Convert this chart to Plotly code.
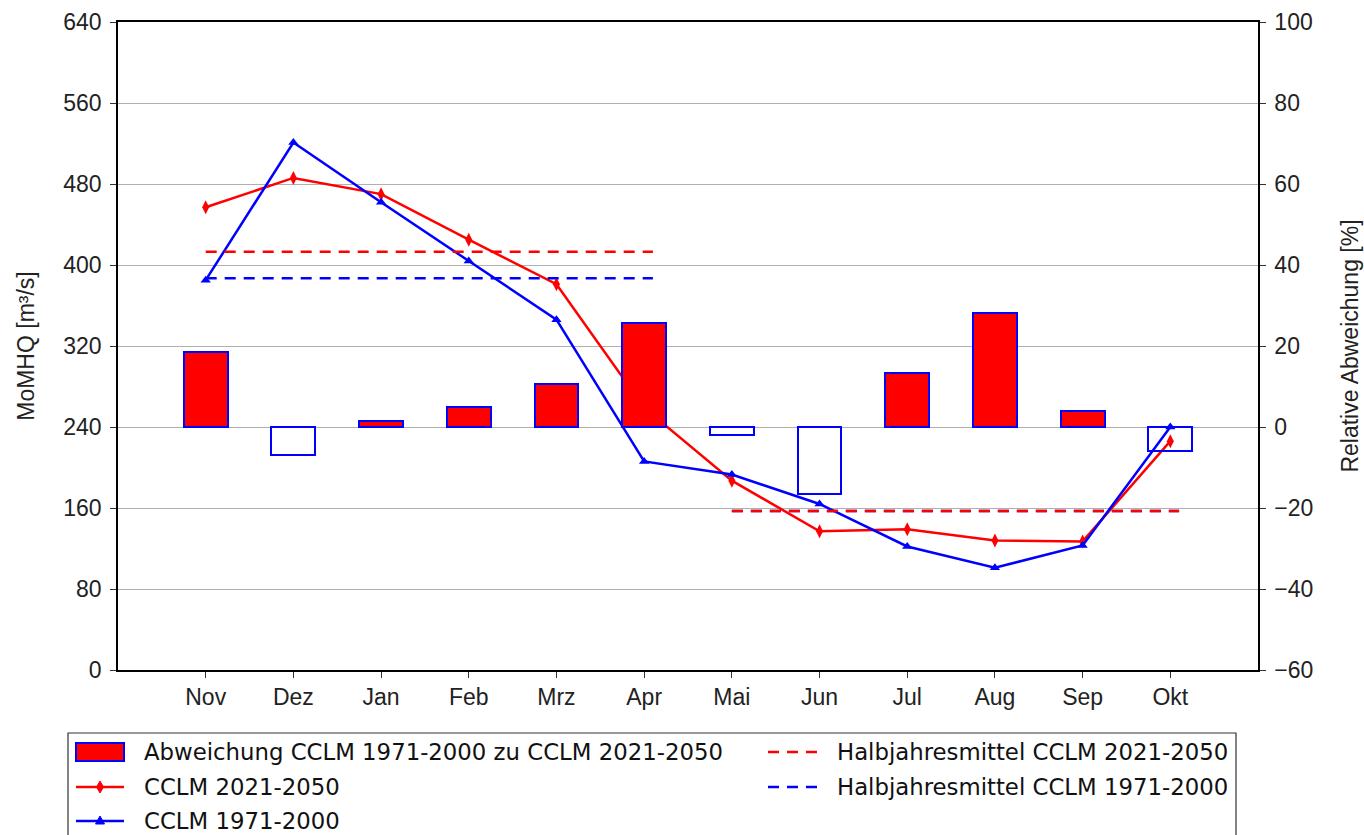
import plotly.graph_objects as go

# ---------------- data ----------------
months = ["Nov", "Dez", "Jan", "Feb", "Mrz", "Apr", "Mai", "Jun", "Jul", "Aug", "Sep", "Okt"]
cclm_2021_2050 = [457, 486, 470, 425, 381, 259, 187, 137, 139, 128, 127, 226]
cclm_1971_2000 = [385, 521, 462, 404, 346, 206, 193, 164, 122, 101, 123, 240]
abweichung_pct = [18.5, -6.9, 1.5, 4.9, 10.6, 25.7, -2.0, -16.5, 13.3, 28.1, 4.0, -5.9]

winter_x = [0, 5.1]
sommer_x = [6, 11.1]
hj_2021_2050 = [413, 157]   # winter, summer
hj_1971_2000 = [387, 157]   # winter, summer

left_ticks = [0, 80, 160, 240, 320, 400, 480, 560, 640]
right_ticks = [-60, -40, -20, 0, 20, 40, 60, 80, 100]

legend_labels = [
    "Abweichung CCLM 1971-2000 zu CCLM 2021-2050",
    "CCLM 2021-2050",
    "CCLM 1971-2000",
    "Halbjahresmittel CCLM 2021-2050",
    "Halbjahresmittel CCLM 1971-2000",
]

RED = "#ff0000"
BLUE = "#0000ff"
FONT = "Liberation Sans, Arial, sans-serif"
LFONT = "DejaVu Sans, sans-serif"

W, H = 1364, 835
L, R, T, B = 118, 1258, 22, 670

x_idx = list(range(len(months)))

fig = go.Figure()

# lines on left axis
fig.add_trace(go.Scatter(x=x_idx, y=cclm_2021_2050, mode="lines+markers",
                         line=dict(color=RED, width=2.5),
                         marker=dict(symbol="diamond-tall", size=10, color=RED),
                         name=legend_labels[1], showlegend=False))
fig.add_trace(go.Scatter(x=x_idx, y=cclm_1971_2000, mode="lines+markers",
                         line=dict(color=BLUE, width=2.5),
                         marker=dict(symbol="triangle-up", size=9, color=BLUE),
                         name=legend_labels[2], showlegend=False))

# half-year means
fig.add_trace(go.Scatter(x=winter_x, y=[hj_1971_2000[0]] * 2, mode="lines",
                         line=dict(color=BLUE, width=2.5, dash="11px,8px"),
                         name=legend_labels[4], showlegend=False))
fig.add_trace(go.Scatter(x=sommer_x, y=[hj_1971_2000[1]] * 2, mode="lines",
                         line=dict(color=BLUE, width=2.5, dash="11px,8px"),
                         showlegend=False))
fig.add_trace(go.Scatter(x=winter_x, y=[hj_2021_2050[0]] * 2, mode="lines",
                         line=dict(color=RED, width=2.5, dash="11px,8px"),
                         name=legend_labels[3], showlegend=False))
fig.add_trace(go.Scatter(x=sommer_x, y=[hj_2021_2050[1]] * 2, mode="lines",
                         line=dict(color=RED, width=2.5, dash="11px,8px"),
                         showlegend=False))

# bars on right axis (drawn on top)
bar_fill = [RED if v >= 0 else "rgba(0,0,0,0)" for v in abweichung_pct]
fig.add_trace(go.Bar(x=x_idx, y=abweichung_pct, yaxis="y2", width=0.5,
                     marker=dict(color=bar_fill, line=dict(color=BLUE, width=2)),
                     name=legend_labels[0], showlegend=False))

fig.update_layout(
    width=W, height=H,
    margin=dict(l=L, r=W - R, t=T, b=H - B, autoexpand=False),
    plot_bgcolor="white", paper_bgcolor="white",
    showlegend=False,
    bargap=0,
    xaxis=dict(range=[-1, 12], tickmode="array", tickvals=x_idx, ticktext=months,
               showgrid=False, zeroline=False, showline=True, linecolor="black",
               linewidth=1.5, mirror=True, ticks="outside", ticklen=6, tickcolor="#333",
               tickfont=dict(family=FONT, size=23, color="#222")),
    yaxis=dict(range=[0, 640], tickmode="array", tickvals=left_ticks,
               showgrid=True, gridcolor="#b0b0b0", gridwidth=1, zeroline=False,
               showline=True, linecolor="black", linewidth=1.5,
               ticks="outside", ticklen=6, tickcolor="#333",
               ticklabelstandoff=4,
               tickfont=dict(family=FONT, size=23, color="#222"),
               title=dict(text="MoMHQ [m³/s]", standoff=22,
                          font=dict(family=FONT, size=23, color="#222"))),
    yaxis2=dict(range=[-60, 100], tickmode="array", tickvals=right_ticks,
                overlaying="y", side="right", showgrid=False, zeroline=False,
                showline=True, linecolor="black", linewidth=1.5,
                ticks="outside", ticklen=6, tickcolor="#333",
                ticklabelstandoff=4,
                tickfont=dict(family=FONT, size=23, color="#222"),
                title=dict(text="Relative Abweichung [%]", standoff=30,
                           font=dict(family=FONT, size=23, color="#222"))),
)

# ---------------- manual legend (pixel -> paper) ----------------
def px(xp):
    return (xp - L) / (R - L)


def py(yp):
    return (B - yp) / (B - T)


shapes = []
annotations = []

# legend frame
shapes.append(dict(type="rect", xref="paper", yref="paper",
                   x0=px(68), x1=px(1236), y0=py(850), y1=py(733),
                   line=dict(color="#333", width=1.2), fillcolor="white", layer="above"))

rows = [752, 787, 821]
c1_sym0, c1_sym1, c1_txt = 76, 124, 142
c2_sym0, c2_sym1, c2_txt = 768, 817, 835

# bar swatch
shapes.append(dict(type="rect", xref="paper", yref="paper",
                   x0=px(c1_sym0), x1=px(c1_sym1), y0=py(rows[0] + 9), y1=py(rows[0] - 9),
                   line=dict(color=BLUE, width=2), fillcolor=RED, layer="above"))
# red line + diamond
shapes.append(dict(type="line", xref="paper", yref="paper",
                   x0=px(c1_sym0), x1=px(c1_sym1), y0=py(rows[1]), y1=py(rows[1]),
                   line=dict(color=RED, width=2.5), layer="above"))
cx, cy = (c1_sym0 + c1_sym1) / 2, rows[1]
shapes.append(dict(type="path", xref="paper", yref="paper", layer="above",
                   path=f"M {px(cx)},{py(cy - 6)} L {px(cx + 3.5)},{py(cy)} L {px(cx)},{py(cy + 6)} L {px(cx - 3.5)},{py(cy)} Z",
                   fillcolor=RED, line=dict(color=RED, width=1)))
# blue line + triangle
shapes.append(dict(type="line", xref="paper", yref="paper",
                   x0=px(c1_sym0), x1=px(c1_sym1), y0=py(rows[2]), y1=py(rows[2]),
                   line=dict(color=BLUE, width=2.5), layer="above"))
cy = rows[2]
shapes.append(dict(type="path", xref="paper", yref="paper", layer="above",
                   path=f"M {px(cx)},{py(cy - 5)} L {px(cx + 4.5)},{py(cy + 3)} L {px(cx - 4.5)},{py(cy + 3)} Z",
                   fillcolor=BLUE, line=dict(color=BLUE, width=1)))
# dashed lines column 2
shapes.append(dict(type="line", xref="paper", yref="paper",
                   x0=px(c2_sym0), x1=px(c2_sym1), y0=py(rows[0]), y1=py(rows[0]),
                   line=dict(color=RED, width=2.5, dash="11px,8px"), layer="above"))
shapes.append(dict(type="line", xref="paper", yref="paper",
                   x0=px(c2_sym0), x1=px(c2_sym1), y0=py(rows[1]), y1=py(rows[1]),
                   line=dict(color=BLUE, width=2.5, dash="11px,8px"), layer="above"))

text_pos = [(c1_txt, rows[0], legend_labels[0]),
            (c1_txt, rows[1], legend_labels[1]),
            (c1_txt, rows[2], legend_labels[2]),
            (c2_txt, rows[0], legend_labels[3]),
            (c2_txt, rows[1], legend_labels[4])]
for xt, yt, txt in text_pos:
    annotations.append(dict(xref="paper", yref="paper", x=px(xt), y=py(yt),
                            text=txt, showarrow=False, xanchor="left", yanchor="middle",
                            font=dict(family=LFONT, size=22.8, color="#111")))

fig.update_layout(shapes=shapes, annotations=annotations)

fig.write_html("out.html", config={"displayModeBar": False},
               post_script="document.body.style.margin='0';document.body.style.overflow='hidden';")
